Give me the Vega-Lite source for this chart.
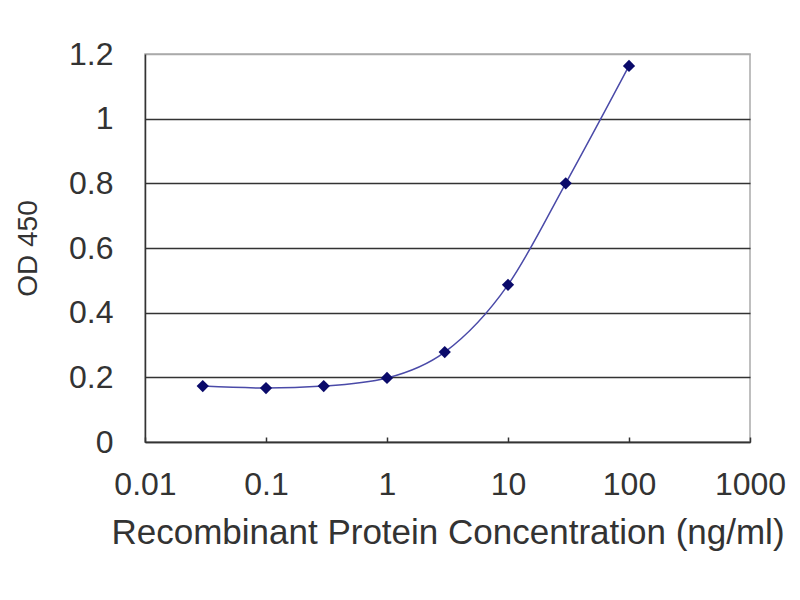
{
  "$schema": "https://vega.github.io/schema/vega-lite/v6.json",
  "background": "white",
  "autosize": "none",
  "width": 605,
  "height": 388,
  "padding": {"left": 145, "top": 54, "right": 50, "bottom": 158},
  "data": {
    "values": [
      {"conc": 0.03, "od": 0.173},
      {"conc": 0.1, "od": 0.167},
      {"conc": 0.3, "od": 0.173},
      {"conc": 1, "od": 0.198},
      {"conc": 3, "od": 0.278},
      {"conc": 10, "od": 0.486},
      {"conc": 30, "od": 0.8},
      {"conc": 100, "od": 1.163}
    ]
  },
  "encoding": {
    "x": {
      "field": "conc",
      "type": "quantitative",
      "scale": {"type": "log", "domain": [0.01, 1000], "nice": false},
      "axis": {
        "title": "Recombinant Protein Concentration (ng/ml)",
        "values": [0.01, 0.1, 1, 10, 100, 1000],
        "format": "~g",
        "grid": false,
        "labelFlush": false,
        "tickSize": -5,
        "tickColor": "#333",
        "tickWidth": 1.5,
        "labelPadding": 32,
        "titlePadding": 15
      }
    },
    "y": {
      "field": "od",
      "type": "quantitative",
      "scale": {"domain": [0, 1.2], "nice": false},
      "axis": {
        "title": "OD 450",
        "values": [0, 0.2, 0.4, 0.6, 0.8, 1, 1.2],
        "format": "~g",
        "ticks": false,
        "grid": true,
        "gridColor": {"condition": {"test": "datum.value >= 1.2", "value": "#aaaaaa"}, "value": "#333333"},
        "gridWidth": 1.5,
        "labelPadding": 32,
        "titlePadding": 26,
        "titleFontSize": 28
      }
    }
  },
  "layer": [
    {
      "mark": {"type": "line", "interpolate": "monotone", "color": "#4a4aa8", "strokeWidth": 1.5}
    },
    {
      "mark": {"type": "point", "shape": "diamond", "filled": true, "size": 150, "color": "#0a0a6a", "opacity": 1}
    }
  ],
  "config": {
    "font": "Liberation Sans",
    "view": {"stroke": "#aaaaaa", "strokeWidth": 1.5},
    "axis": {
      "domainColor": "#333333",
      "domainWidth": 1.5,
      "labelFont": "Liberation Sans",
      "labelFontSize": 32,
      "labelColor": "#333333",
      "titleFont": "Liberation Sans",
      "titleFontSize": 35,
      "titleFontWeight": "normal",
      "titleColor": "#333333"
    }
  }
}
